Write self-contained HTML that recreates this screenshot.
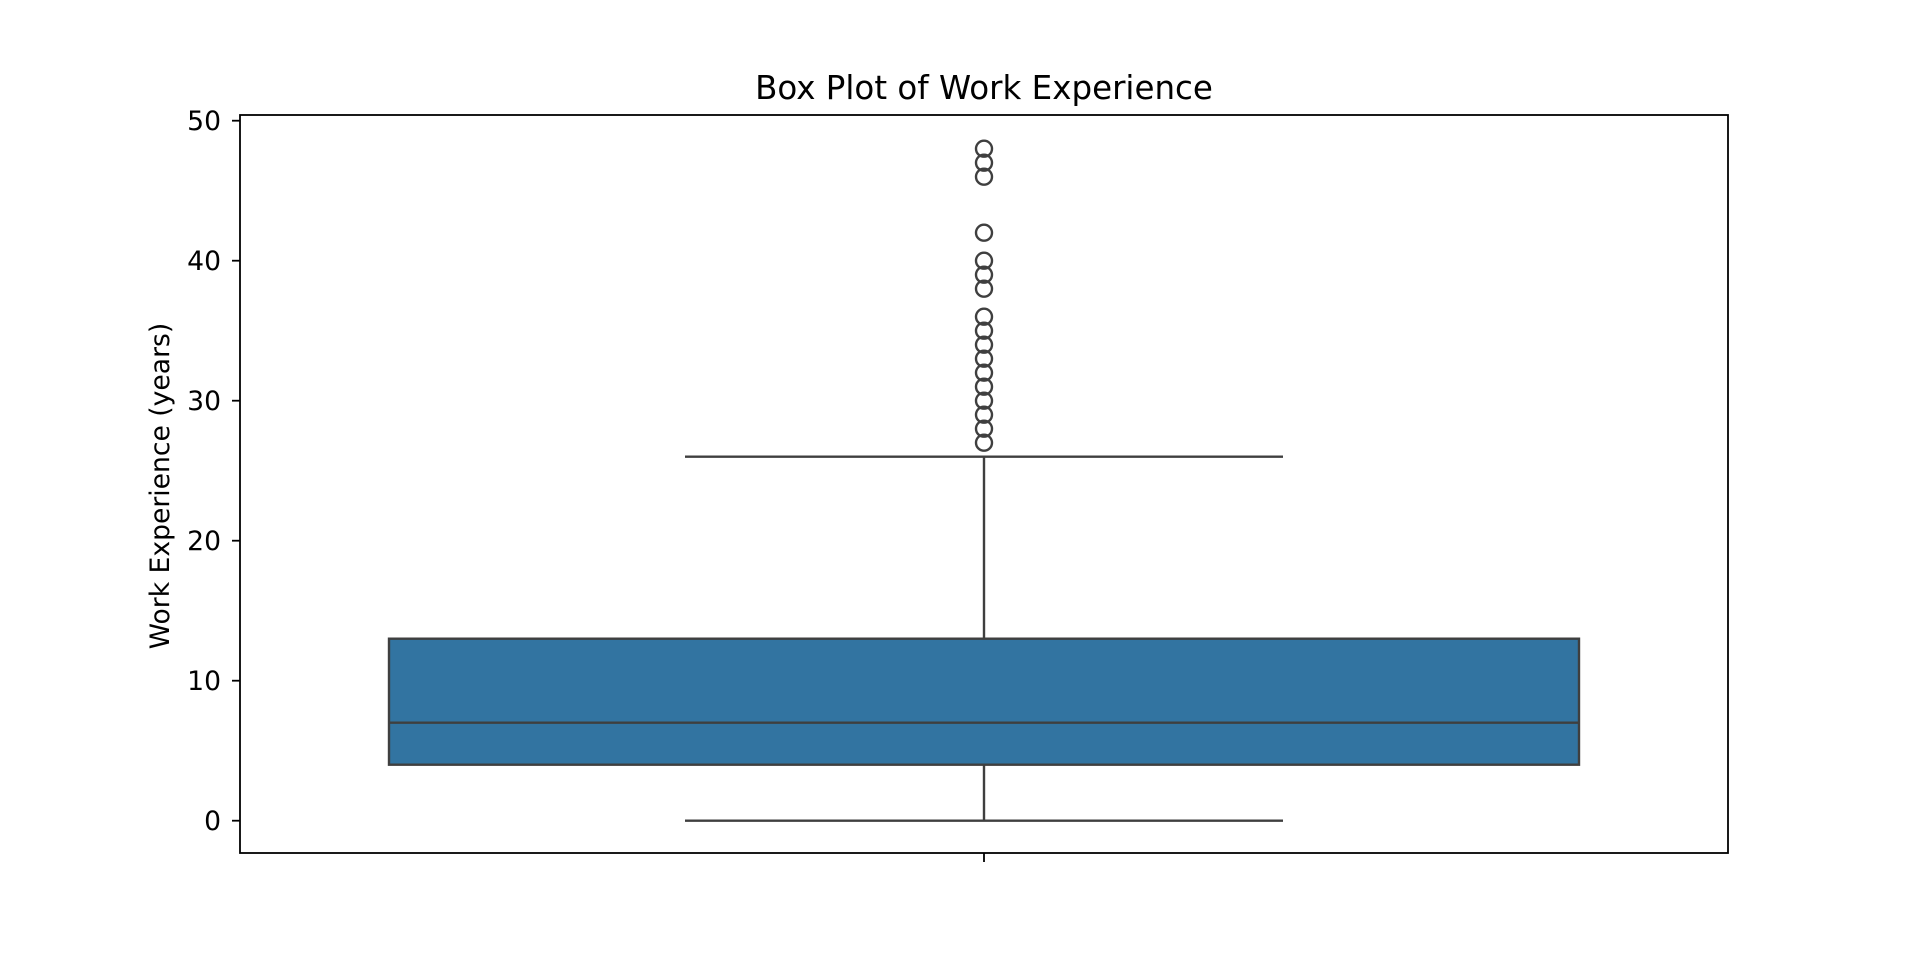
<!DOCTYPE html>
<html><head><meta charset="utf-8"><style>
html,body{margin:0;padding:0;background:#fff;}
svg{display:block;font-family:"DejaVu Sans","Liberation Sans",sans-serif;}
</style></head><body>
<svg id="chart" width="1920" height="960" viewBox="0 0 1920 960">
<rect x="0" y="0" width="1920" height="960" fill="#fff"/>
<text x="984" y="99" font-size="32.5" text-anchor="middle" fill="#000">Box Plot of Work Experience</text>
<text transform="translate(169,486) rotate(-90)" font-size="26.6" text-anchor="middle" fill="#000">Work Experience (years)</text>
<g id="plot"></g>
</svg>
<script>
const yTicks = [0, 10, 20, 30, 40, 50];
const boxStats = [4, 7, 13];            // q1, median, q3
const whiskerValues = [0, 26];          // low, high
const outlierValues = [27, 28, 29, 30, 31, 32, 33, 34, 35, 36, 38, 39, 40, 42, 46, 47, 48];

const NS = 'http://www.w3.org/2000/svg';
const L = 240, R = 1728, T = 115, B = 853, CX = 984;
function y(v){ return 820.7 - (v / 10) * 140; }
const g = document.getElementById('plot');
function mk(tag, attrs){ const e = document.createElementNS(NS, tag); for (const k in attrs) e.setAttribute(k, attrs[k]); g.appendChild(e); return e; }

let e = mk('line', {x1:CX, x2:CX, y1:y(whiskerValues[0]), y2:y(whiskerValues[1]), stroke:'#3f3f3f', 'stroke-width':2.4});


e = mk('line', {x1:CX-299, x2:CX+299, y1:y(whiskerValues[0]), y2:y(whiskerValues[0]), stroke:'#3f3f3f', 'stroke-width':2.4});


e = mk('line', {x1:CX-299, x2:CX+299, y1:y(whiskerValues[1]), y2:y(whiskerValues[1]), stroke:'#3f3f3f', 'stroke-width':2.4});


e = mk('rect', {x:CX-595, width:1190, y:y(boxStats[2]), height:y(boxStats[0])-y(boxStats[2]), fill:'#3274a1', stroke:'#3f3f3f', 'stroke-width':2.4});


e = mk('line', {x1:CX-595, x2:CX+595, y1:y(boxStats[1]), y2:y(boxStats[1]), stroke:'#3f3f3f', 'stroke-width':2.4});


outlierValues.forEach(v => {
  const c = mk('circle', {cx:CX, cy:y(v), r:8, fill:'none', stroke:'#3f3f3f', 'stroke-width':2.4});
  
  
});
e = mk('rect', {x:L, y:T, width:R-L, height:B-T, fill:'none', stroke:'#000', 'stroke-width':1.8});


yTicks.forEach(v => {
  const t = mk('line', {x1:L-8, x2:L, y1:y(v), y2:y(v), stroke:'#000', 'stroke-width':1.8});
  
  
  const lb = mk('text', {x:L-19, y:y(v)+9.5, 'font-size':26.6, 'text-anchor':'end', fill:'#000'});
  lb.textContent = v;
  
  
});
e = mk('line', {x1:CX, x2:CX, y1:B, y2:B+9, stroke:'#000', 'stroke-width':1.8});


</script>
</body></html>
